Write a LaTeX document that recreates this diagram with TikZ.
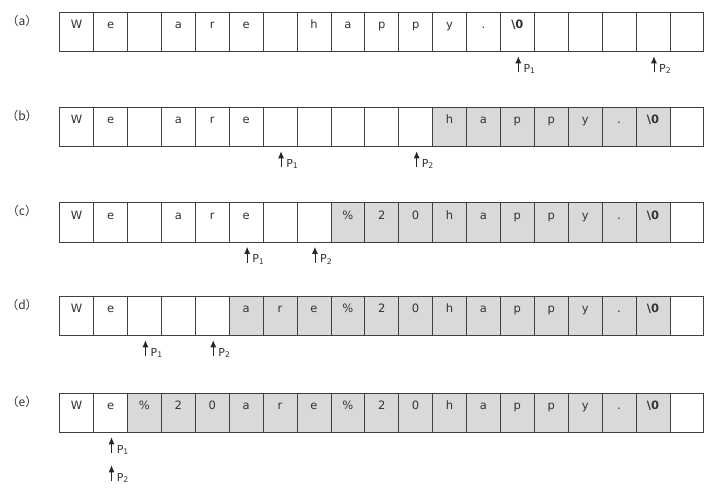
\documentclass[tikz,border=0pt]{standalone}
\usepackage{fontspec}
\setmainfont{DejaVu Sans}
\newfontfamily\cjk{Noto Sans CJK SC}
\usetikzlibrary{arrows.meta,calc}
\newcommand\zerochar{\textbf{\textbackslash 0}}
\tikzset{
  cell/.style={draw=black!75, line width=0.8pt, minimum width=33.9pt, minimum height=39.5pt,
    inner sep=0pt, anchor=north west, text height=8pt, text depth=14.3pt,
    font=\fontsize{11.5}{11.5}\selectfont, text=black!80},
  rowlabel/.style={font=\cjk\fontsize{12}{12}\selectfont, text=black!80, inner sep=0pt},
  ptr/.style={-{Latex[length=7pt,width=6pt]}, line width=0.8pt, draw=black!85},
  ptrlabel/.style={anchor=base west, inner sep=0pt, font=\fontsize{11}{11}\selectfont, text=black!80}
}
\newcommand\cellrow[4]{% #1 prefix, #2 top y, #3 first shaded cell, #4 contents
  \foreach \c [count=\i from 0] in {#4} {
    \pgfmathsetmacro\xx{59.3+33.9*\i}
    \ifnum\i<#3 \def\fc{white}\else\ifnum\i>17 \def\fc{white}\else\def\fc{black!15}\fi\fi
    \node[cell, fill=\fc] (#1\i) at (\xx,#2) {\c};
  }%
  \node[rowlabel] (lab#1) at (22,#2+9) {（#1）};
}
\newcommand\pointer[4]{% #1 row, #2 cell, #3 subscript, #4 level
  \pgfmathsetmacro\shrt{4.3+28*#4}
  \coordinate (#1p#3) at ([xshift=1pt,yshift={-20pt-28pt*#4}]#1#2.south);
  \draw[ptr, shorten >=\shrt pt] (#1p#3) -- (#1p#3 |- #1#2.south);
  \node[ptrlabel] (#1pl#3) at ([xshift=5pt]#1p#3) {P\textsubscript{#3}};
}
\begin{document}
\begin{tikzpicture}[x=1pt,y=-1pt]
\fill[white] (0,0) rectangle (704,488);
\useasboundingbox (0,0) rectangle (704,488);
\cellrow{a}{11.7}{19}{W,e,{},a,r,e,{},h,a,p,p,y,.,\zerochar,{},{},{},{},{}}
\cellrow{b}{106.7}{11}{W,e,{},a,r,e,{},{},{},{},{},h,a,p,p,y,.,\zerochar,{}}
\cellrow{c}{202.3}{8}{W,e,{},a,r,e,{},{},\%,2,0,h,a,p,p,y,.,\zerochar,{}}
\cellrow{d}{295.7}{5}{W,e,{},{},{},a,r,e,\%,2,0,h,a,p,p,y,.,\zerochar,{}}
\cellrow{e}{392.7}{2}{W,e,\%,2,0,a,r,e,\%,2,0,h,a,p,p,y,.,\zerochar,{}}
\pointer{a}{13}{1}{0}
\pointer{a}{17}{2}{0}
\pointer{b}{6}{1}{0}
\pointer{b}{10}{2}{0}
\pointer{c}{5}{1}{0}
\pointer{c}{7}{2}{0}
\pointer{d}{2}{1}{0}
\pointer{d}{4}{2}{0}
\pointer{e}{1}{1}{0}
\pointer{e}{1}{2}{1}
\end{tikzpicture}
\end{document}
